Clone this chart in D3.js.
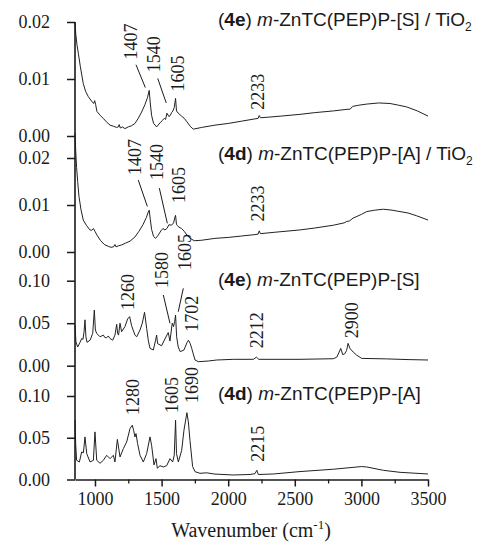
<!DOCTYPE html>
<html><head><meta charset="utf-8">
<script src="https://cdn.jsdelivr.net/npm/d3@7"></script>
</head><body style="margin:0">
<svg id="c" width="483" height="546" font-family="Liberation Serif" style="display:block;background:#fff"></svg>
<script>
// ---- data ----
const wn1 = [850,856,865,875,890,912,930,950,975,990,998,1005,1015,1040,1062,1085,1113,1140,1163,1175,1182,1190,1205,1225,1250,1275,1300,1325,1350,1375,1395,1407,1415,1425,1440,1463,1488,1505,1520,1530,1540,1555,1565,1575,1585,1595,1605,1612,1625,1650,1670,1690,1715,1738,1800,1900,2000,2100,2200,2225,2233,2242,2300,2400,2540,2650,2790,2900,2915,2935,2980,3040,3130,3215,3280,3340,3420,3500];
const ab1 = [0.0200,0.0178,0.0160,0.0145,0.0122,0.0092,0.0078,0.0069,0.0061,0.0057,0.0062,0.0055,0.0043,0.0036,0.0031,0.0025,0.0019,0.0017,0.0015,0.0016,0.0020,0.0014,0.0016,0.0013,0.0016,0.0018,0.0022,0.0031,0.0042,0.0055,0.0068,0.0080,0.0058,0.0036,0.0022,0.0016,0.0023,0.0027,0.0031,0.0029,0.0040,0.0034,0.0036,0.0041,0.0044,0.0050,0.0066,0.0044,0.0040,0.0035,0.0031,0.0025,0.0017,0.0012,0.0015,0.0019,0.0022,0.0026,0.0030,0.0031,0.0036,0.0032,0.0033,0.0035,0.0038,0.0041,0.0044,0.0047,0.0047,0.0052,0.0054,0.0056,0.0058,0.0057,0.0054,0.0051,0.0044,0.0035];

const wn2 = [850,855,862,870,880,895,912,935,962,975,988,1000,1015,1040,1070,1100,1120,1140,1150,1158,1175,1200,1230,1263,1300,1330,1360,1385,1400,1407,1415,1425,1440,1455,1475,1495,1510,1525,1540,1555,1575,1590,1600,1605,1612,1630,1650,1670,1690,1715,1745,1800,1900,2000,2100,2200,2225,2233,2242,2350,2540,2650,2790,2870,2890,2910,2937,3000,3040,3100,3165,3230,3290,3350,3415,3500];
const ab2 = [0.0253,0.0217,0.0180,0.0150,0.0118,0.0090,0.0068,0.0057,0.0047,0.0046,0.0050,0.0044,0.0036,0.0025,0.0016,0.0012,0.0010,0.0011,0.0016,0.0011,0.0013,0.0015,0.0019,0.0023,0.0032,0.0044,0.0058,0.0073,0.0085,0.0089,0.0070,0.0048,0.0033,0.0029,0.0036,0.0045,0.0050,0.0047,0.0050,0.0058,0.0057,0.0062,0.0074,0.0078,0.0058,0.0053,0.0050,0.0044,0.0036,0.0029,0.0024,0.0025,0.0029,0.0031,0.0034,0.0037,0.0038,0.0045,0.0039,0.0042,0.0047,0.0051,0.0057,0.0062,0.0065,0.0066,0.0072,0.0080,0.0086,0.0089,0.0091,0.0089,0.0086,0.0083,0.0077,0.0068];

const wn3 = [850,857,870,888,900,910,918,925,932,940,963,983,995,1003,1013,1038,1063,1075,1088,1100,1113,1133,1150,1163,1170,1177,1188,1200,1225,1245,1260,1275,1300,1313,1338,1355,1372,1388,1400,1413,1438,1455,1463,1470,1500,1525,1550,1563,1580,1590,1598,1605,1613,1625,1640,1668,1690,1702,1715,1726,1751,1776,1850,1914,2038,2189,2212,2230,2539,2789,2815,2830,2845,2860,2875,2889,2900,2915,2939,2964,3002,3190,3350,3500];
const ab3 = [0.048,0.028,0.022,0.0275,0.032,0.031,0.040,0.054,0.034,0.0275,0.030,0.038,0.0655,0.042,0.038,0.034,0.036,0.033,0.033,0.035,0.032,0.030,0.036,0.0487,0.038,0.036,0.050,0.040,0.046,0.055,0.0577,0.047,0.036,0.034,0.042,0.050,0.0628,0.044,0.030,0.0204,0.0185,0.030,0.036,0.026,0.0235,0.0314,0.039,0.029,0.050,0.046,0.052,0.0596,0.034,0.022,0.0165,0.0185,0.027,0.030,0.026,0.0204,0.0067,0.0047,0.0055,0.0067,0.0075,0.0075,0.0100,0.0075,0.0075,0.0082,0.0100,0.0150,0.0204,0.0130,0.0140,0.0180,0.0263,0.0200,0.016,0.0125,0.0086,0.0080,0.0072,0.0067];

const wn4 = [850,855,862,883,900,913,925,938,963,988,1000,1013,1038,1063,1088,1113,1138,1150,1168,1188,1213,1238,1263,1280,1290,1300,1308,1320,1338,1363,1388,1413,1425,1443,1458,1468,1488,1513,1538,1563,1583,1595,1605,1612,1626,1651,1668,1690,1701,1713,1733,1751,1788,1838,1900,2038,2164,2201,2215,2226,2338,2539,2789,3002,3040,3165,3290,3500];
const ab4 = [0.071,0.043,0.023,0.021,0.033,0.032,0.051,0.031,0.021,0.023,0.057,0.023,0.0194,0.023,0.029,0.025,0.029,0.021,0.048,0.027,0.037,0.045,0.061,0.065,0.059,0.051,0.055,0.043,0.029,0.021,0.031,0.051,0.041,0.0175,0.025,0.0135,0.0165,0.015,0.0165,0.025,0.021,0.029,0.071,0.031,0.021,0.035,0.059,0.080,0.069,0.047,0.0155,0.0094,0.0074,0.0080,0.0065,0.0054,0.0060,0.0070,0.0110,0.0060,0.0066,0.0095,0.0123,0.0155,0.0150,0.0110,0.0086,0.0066];

const xMajorTicks = [1000,1500,2000,2500,3000,3500];
const xMinorTicks = [1250,1750,2250,2750,3250];
const yTicksSmall = [0.00,0.01,0.02];
const yTicksLarge = [0.00,0.05,0.10];

const titleCodes = ["4e","4d","4e","4d"];
const titleForms = ["[S] / TiO","[A] / TiO","[S]","[A]"];
const titleSub = ["2","2","",""];

// peak annotations: [text, panel, label wavenumber, label-bottom value, leader [wn1,v1,wn2,v2] or null]
const peakLabels = [
  ["1407",0,1274,0.0134,[1308,0.0125,1378,0.0085]],
  ["1540",0,1443,0.0112,[1471,0.0101,1535,0.0058]],
  ["1605",0,1623,0.0078,null],
  ["2233",0,2224,0.0046,null],
  ["1407",1,1300,0.0164,[1325,0.0153,1393,0.0097]],
  ["1540",1,1463,0.0153,[1483,0.0136,1543,0.0061]],
  ["1605",1,1631,0.0104,null],
  ["2233",1,2224,0.0065,null],
  ["1260",2,1250,0.0655,null],
  ["1580",2,1501,0.0914,[1513,0.0832,1563,0.0499]],
  ["1605",2,1676,0.1126,[1663,0.091,1625,0.0635]],
  ["1702",2,1732,0.040,null],
  ["2212",2,2220,0.0204,null],
  ["2900",2,2933,0.0322,null],
  ["1280",3,1285,0.0772,null],
  ["1605",3,1580,0.0796,null],
  ["1690",3,1726,0.0916,null],
  ["2215",3,2224,0.0213,null]
];

// ---- layout ----
const SERIF = "Liberation Serif";
const SANS = "Liberation Sans";
const svg = d3.select("#c");
const x = d3.scaleLinear().domain([850,3500]).range([75,428]);
const panels = [
  {wn: wn1, ab: ab1, y: d3.scaleLinear().domain([0,0.02]).range([136,22]), ticks: yTicksSmall, titleY: 26},
  {wn: wn2, ab: ab2, y: d3.scaleLinear().domain([0,0.02]).range([252,158]), ticks: yTicksSmall, titleY: 160},
  {wn: wn3, ab: ab3, y: d3.scaleLinear().domain([0,0.10]).range([365.7,280.7]), ticks: yTicksLarge, titleY: 286},
  {wn: wn4, ab: ab4, y: d3.scaleLinear().domain([0,0.10]).range([479.5,396]), ticks: yTicksLarge, titleY: 400}
];
const fmt = d3.format(".2f");
const ink = "#1a1a1a";

// curves
panels.forEach(p => {
  const pts = p.wn.map((w,k) => [w, p.ab[k]]);
  svg.append("path")
    .datum(pts)
    .attr("fill","none")
    .attr("stroke","#222")
    .attr("stroke-width",1)
    .attr("stroke-linejoin","round")
    .attr("d", d3.line().x(d => x(d[0])).y(d => p.y(d[1])));
});

// y axes (ticks per panel)
panels.forEach(p => {
  const g = svg.append("g").attr("transform","translate(75,0)")
    .call(d3.axisLeft(p.y).tickValues(p.ticks).tickFormat(fmt).tickSize(8).tickPadding(17).tickSizeOuter(0));
  g.attr("font-family",SERIF).attr("font-size",18);
  g.select(".domain").remove();
  g.selectAll("line").attr("stroke",ink).attr("stroke-width",1.5);
  g.selectAll("text").attr("font-family",SERIF).attr("fill",ink);
});
// continuous left spine
svg.append("line")
  .attr("x1",x(850)).attr("x2",x(850))
  .attr("y1",panels[0].y(0.02)).attr("y2",panels[3].y(0))
  .attr("stroke",ink).attr("stroke-width",1.6);

// x axis
const xg = svg.append("g").attr("transform",`translate(0,${panels[3].y(0)})`)
  .call(d3.axisBottom(x).tickValues(xMajorTicks).tickFormat(d3.format("d")).tickSize(7).tickPadding(6).tickSizeOuter(0));
xg.attr("font-family",SERIF).attr("font-size",18);
xg.select(".domain").attr("stroke",ink).attr("stroke-width",1.6);
xg.selectAll("line").attr("stroke",ink).attr("stroke-width",1.5);
xg.selectAll("text").attr("font-family",SERIF).attr("fill",ink);
const xm = svg.append("g").attr("transform",`translate(0,${panels[3].y(0)})`)
  .call(d3.axisBottom(x).tickValues(xMinorTicks).tickFormat("").tickSize(4).tickSizeOuter(0));
xm.select(".domain").remove();
xm.selectAll("line").attr("stroke",ink).attr("stroke-width",1.3);

// axis title
const xt = svg.append("text")
  .attr("x", 251).attr("y", 537)
  .attr("text-anchor","middle")
  .attr("font-family",SERIF).attr("font-size",20).attr("fill",ink);
xt.append("tspan").text("Wavenumber (cm");
xt.append("tspan").attr("font-size",13).attr("dy",-8).text("-1");
xt.append("tspan").attr("dy",8).text(")");

// panel titles
panels.forEach((p,i) => {
  const t = svg.append("text").attr("x",218).attr("y",p.titleY)
    .attr("font-family",SANS).attr("font-size",19).attr("fill",ink);
  t.append("tspan").text("(");
  t.append("tspan").attr("font-weight","bold").text(titleCodes[i]);
  t.append("tspan").text(") ");
  t.append("tspan").attr("font-style","italic").text("m");
  t.append("tspan").text("-ZnTC(PEP)P-" + titleForms[i]);
  if (titleSub[i]) {
    t.append("tspan").attr("font-size",12).attr("dy",5).text(titleSub[i]);
  }
});

// peak labels and leaders
peakLabels.forEach(([txt, pi, lw, lv, leader]) => {
  const p = panels[pi];
  const px = x(lw), py = p.y(lv);
  svg.append("text")
    .attr("transform",`translate(${px},${py}) rotate(-90)`)
    .attr("text-anchor","start")
    .attr("dominant-baseline","central")
    .attr("font-family",SERIF).attr("font-size",18).attr("fill",ink)
    .text(txt);
  if (leader) {
    svg.append("line")
      .attr("x1",x(leader[0])).attr("y1",p.y(leader[1]))
      .attr("x2",x(leader[2])).attr("y2",p.y(leader[3]))
      .attr("stroke",ink).attr("stroke-width",1);
  }
});
</script>
</body></html>
